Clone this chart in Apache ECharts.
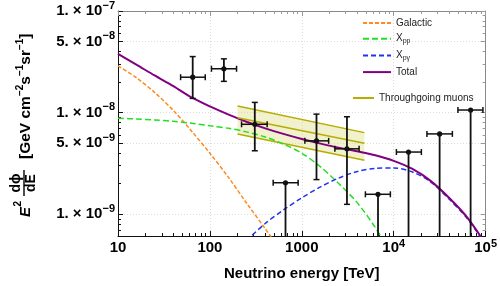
<!DOCTYPE html>
<html><head><meta charset="utf-8">
<script src="https://cdn.jsdelivr.net/npm/echarts@6/dist/echarts.min.js"></script>
<style>html,body{margin:0;padding:0;background:#fff}#c{width:500px;height:286px}</style>
</head><body><div id="c"></div>
<script>
// ---- data (energy in TeV, flux E^2 dPhi/dE in GeV cm^-2 s^-1 sr^-1) ----
const curveEnergy = [10,16,25,40,63,100,160,250,400,630,1000,1600,2500,4000,6300,10000,16000,25000,40000,63000,100000];
const totalFlux = [3.78e-8,2.95e-8,2.32e-8,1.82e-8,1.41e-8,1.15e-8,9.55e-9,8.13e-9,7.00e-9,6.17e-9,5.50e-9,4.95e-9,4.52e-9,4.17e-9,3.80e-9,3.35e-9,2.79e-9,2.14e-9,1.45e-9,9.3e-10,5.1e-10];
const galacticEnergy = [10,16,25,40,63,100,160,250,400,630];
const galacticFlux = [2.88e-8,2.19e-8,1.58e-8,1.05e-8,6.6e-9,3.98e-9,2.29e-9,1.29e-9,7.2e-10,4.0e-10];
const xppEnergy = [10,16,25,40,63,100,160,250,400,630,1000,1600,2500,4000,6300,10000];
const xppFlux = [8.81e-9,8.65e-9,8.47e-9,8.22e-9,7.85e-9,7.41e-9,7.00e-9,6.46e-9,5.75e-9,4.90e-9,3.98e-9,2.92e-9,2.02e-9,1.30e-9,7.4e-10,3.7e-10];
const xpgEnergy = [250,400,630,1000,1600,2500,4000,6300,10000,16000,25000,40000,63000,100000];
const xpgFlux = [5.5e-10,8.1e-10,1.10e-9,1.45e-9,1.86e-9,2.26e-9,2.63e-9,2.82e-9,2.85e-9,2.60e-9,2.09e-9,1.41e-9,9.1e-10,5.0e-10];

const bandEnergy = [200, 4800];
const bandUpper = [1.16e-8, 6.35e-9];
const bandBest = [8.9e-9, 5.0e-9];
const bandLower = [6.17e-9, 3.39e-9];

const pointEnergy = [65,142,308,665,1445,3100,6750,14500,31600,68700];
const pointEnergyLow = [48,104,221,488,1080,2290,4920,10700,23000,50000];
const pointEnergyHigh = [89,195,420,912,1960,4200,9200,20000,43500,93500];
const pointFlux = [2.23e-8,2.70e-8,7.67e-9,2.04e-9,5.27e-9,4.40e-9,1.57e-9,4.09e-9,6.17e-9,1.06e-8];
const pointFluxHigh = [3.56e-8,3.38e-8,1.26e-8,2.04e-9,9.66e-9,9.10e-9,1.57e-9,4.09e-9,6.17e-9,1.06e-8];
const pointFluxLow = [1.38e-8,2.03e-8,4.21e-9,0,2.19e-9,1.25e-9,0,0,0,0];

const xRange = [10, 100000];
const yRange = [6.1e-10, 1e-7];
const xTickValues = [10,100,1000,10000,100000];
const xTickLabels = [['10',''],['100',''],['1000',''],['10','4'],['10','5']];
const yTickValues = [1e-9,5e-9,1e-8,5e-8,1e-7];
const yTickLabels = [['1. \u00d7 10','\u22129'],['5. \u00d7 10','\u22129'],['1. \u00d7 10','\u22128'],['5. \u00d7 10','\u22128'],['1. \u00d7 10','\u22127']];

// ---- helpers ----
const L = Math.log10;
const pairs = (xs, ys) => xs.map((x, i) => [L(x), L(ys[i])]);
function minorTicks(lo, hi) {
  const out = [];
  for (let d = Math.floor(L(lo)); d <= Math.ceil(L(hi)); d++) {
    for (let k = 1; k <= 9; k++) {
      const v = k * Math.pow(10, d);
      if (v >= lo * 0.999 && v <= hi * 1.001) out.push(L(v));
    }
  }
  return out;
}
const xMajor = xTickValues.map(L);
const yMajor = yTickValues.map(L);
const xMinor = minorTicks(xRange[0], xRange[1]).filter(v => !xMajor.some(m => Math.abs(m - v) < 1e-6));
const yMinor = minorTicks(yRange[0], yRange[1]).filter(v => !yMajor.some(m => Math.abs(m - v) < 1e-6));
const findIdx = (arr, v) => arr.findIndex(m => Math.abs(m - v) < 1e-6);

const FONT = 'Liberation Sans';
const xMin = L(xRange[0]), xMax = L(xRange[1]), yMin = L(yRange[0]), yMax = L(yRange[1]);

function axisBase(extra) {
  return Object.assign({
    type: 'value', min: 0, max: 1, axisLine: { show: false }, axisLabel: { show: false },
    axisTick: { show: false }, splitLine: { show: false }
  }, extra);
}

const xAxes = [
  axisBase({ min: xMin, max: xMax, position: 'bottom',
    axisLine: { show: true, onZero: false, lineStyle: { color: '#111', width: 1 } },
    axisTick: { show: true, inside: true, length: 5, customValues: xMajor, lineStyle: { color: '#111' } },
    axisLabel: { show: true, customValues: xMajor, margin: 2,
      formatter: v => { const t = xTickLabels[findIdx(xMajor, v)]; return t[1] ? '{m|' + t[0] + '}{s|' + t[1] + '}' : '{m|' + t[0] + '}'; },
      rich: { m: { fontFamily: FONT, fontWeight: 'bold', fontSize: 15, color: '#000', lineHeight: 20 },
              s: { fontFamily: FONT, fontWeight: 'bold', fontSize: 11, color: '#000', lineHeight: 8, verticalAlign: 'top' } } },
    splitLine: { show: true, lineStyle: { color: '#dcdcdc', type: [1, 2], width: 1 } },
    name: 'Neutrino energy [TeV]', nameLocation: 'middle', nameGap: 30,
    nameTextStyle: { fontFamily: FONT, fontWeight: 'bold', fontSize: 15, color: '#000' } }),
  axisBase({ min: xMin, max: xMax, position: 'bottom',
    axisTick: { show: true, inside: true, length: 3, customValues: xMinor, lineStyle: { color: '#111' } } }),
  axisBase({ min: xMin, max: xMax, position: 'top',
    axisLine: { show: true, onZero: false, lineStyle: { color: '#888', width: 1 } },
    axisTick: { show: true, inside: true, length: 5, customValues: xMajor, lineStyle: { color: '#999' } } }),
  axisBase({ min: xMin, max: xMax, position: 'top',
    axisTick: { show: true, inside: true, length: 3, customValues: xMinor, lineStyle: { color: '#999' } } })
];
const yAxes = [
  axisBase({ min: yMin, max: yMax, position: 'left',
    axisLine: { show: true, onZero: false, lineStyle: { color: '#111', width: 1 } },
    axisTick: { show: true, inside: true, length: 5, customValues: yMajor, lineStyle: { color: '#111' } },
    axisLabel: { show: true, customValues: yMajor, margin: 3,
      formatter: v => { const t = yTickLabels[findIdx(yMajor, v)]; return '{m|' + t[0] + '}{s|' + t[1] + '}'; },
      rich: { m: { fontFamily: FONT, fontWeight: 'bold', fontSize: 15, color: '#000', lineHeight: 22 },
              s: { fontFamily: FONT, fontWeight: 'bold', fontSize: 11, color: '#000', lineHeight: 6, verticalAlign: 'top' } } },
    splitLine: { show: true, lineStyle: { color: '#dcdcdc', type: [1, 2], width: 1 } } }),
  axisBase({ min: yMin, max: yMax, position: 'left',
    axisTick: { show: true, inside: true, length: 3, customValues: yMinor, lineStyle: { color: '#111' } } }),
  axisBase({ min: yMin, max: yMax, position: 'right',
    axisLine: { show: true, onZero: false, lineStyle: { color: '#888', width: 1 } },
    axisTick: { show: true, inside: true, length: 5, customValues: yMajor, lineStyle: { color: '#999' } } }),
  axisBase({ min: yMin, max: yMax, position: 'right',
    axisTick: { show: true, inside: true, length: 3, customValues: yMinor, lineStyle: { color: '#999' } } })
];

// error-bar points
const pointData = pointEnergy.map((e, i) => [
  L(e), L(pointFlux[i]), L(pointEnergyLow[i]), L(pointEnergyHigh[i]),
  pointFluxLow[i] > 0 ? L(pointFluxLow[i]) : yMin, L(pointFluxHigh[i]),
  pointFluxLow[i] > 0 ? 1 : 0, pointFluxHigh[i] > pointFlux[i] ? 1 : 0
]);

function renderPoint(params, api) {
  const c = api.coord([api.value(0), api.value(1)]);
  const xl = api.coord([api.value(2), api.value(1)])[0];
  const xh = api.coord([api.value(3), api.value(1)])[0];
  const yl = api.coord([api.value(0), api.value(4)])[1];
  const yh = api.coord([api.value(0), api.value(5)])[1];
  const hasLow = api.value(6), hasHigh = api.value(7);
  const st = { stroke: '#111', lineWidth: 1.5 };
  const vst = { stroke: '#111', lineWidth: 1.8 };
  const ch = [
    { type: 'line', shape: { x1: xl, y1: c[1], x2: xh, y2: c[1] }, style: st },
    { type: 'line', shape: { x1: xl, y1: c[1] - 3, x2: xl, y2: c[1] + 3 }, style: st },
    { type: 'line', shape: { x1: xh, y1: c[1] - 3, x2: xh, y2: c[1] + 3 }, style: st },
    { type: 'line', shape: { x1: c[0], y1: yh, x2: c[0], y2: yl }, style: vst }
  ];
  if (hasHigh) ch.push({ type: 'line', shape: { x1: c[0] - 3, y1: yh, x2: c[0] + 3, y2: yh }, style: st });
  if (hasLow) ch.push({ type: 'line', shape: { x1: c[0] - 3, y1: yl, x2: c[0] + 3, y2: yl }, style: st });
  ch.push({ type: 'circle', shape: { cx: c[0], cy: c[1], r: 2.6 }, style: { fill: '#111' } });
  return { type: 'group', children: ch };
}

// band fill polygon (one item spanning the band)
const bandData = [[L(bandEnergy[0]), L(bandLower[0]), L(bandUpper[0]), L(bandEnergy[1]), L(bandLower[1]), L(bandUpper[1])]];
function renderBand(params, api) {
  const a = api.coord([api.value(0), api.value(1)]);
  const b = api.coord([api.value(0), api.value(2)]);
  const c = api.coord([api.value(3), api.value(5)]);
  const d = api.coord([api.value(3), api.value(4)]);
  return { type: 'polygon', shape: { points: [a, b, c, d] }, style: { fill: 'rgba(222,220,130,0.4)' } };
}

const OLIVE = '#b5ad00';
const lineSeries = (name, data, color, width, dash, z) => ({
  name, type: 'line', data, symbol: 'none', showSymbol: false, smooth: 0.3, xAxisIndex: 0, yAxisIndex: 0, z: z || 3,
  lineStyle: { color, width, type: dash || 'solid' }, itemStyle: { color }, silent: true
});

const option = {
  animation: false,
  backgroundColor: '#fff',
  grid: { left: 118, right: 14, top: 10, bottom: 49, containLabel: false },
  xAxis: xAxes,
  yAxis: yAxes,
  legend: [
    { data: ['Galactic', 'Xpp', 'Xp\u03b3', 'Total'], orient: 'vertical', left: 357, top: 13,
      itemWidth: 28, itemHeight: 12, itemGap: 5.7, itemStyle: { opacity: 0 },
      textStyle: { fontFamily: FONT, fontSize: 10, color: '#222',
        rich: { m: { fontFamily: FONT, fontSize: 10, color: '#222', lineHeight: 12 },
                s: { fontFamily: FONT, fontSize: 7, color: '#222', lineHeight: 6, verticalAlign: 'bottom' } } },
      formatter: n => n === 'Xpp' ? '{m|X}{s|pp}' : (n === 'Xp\u03b3' ? '{m|X}{s|p\u03b3}' : '{m|' + n + '}') },
    { data: ['Throughgoing muons'], orient: 'vertical', left: 347, top: 88,
      itemWidth: 21, itemHeight: 12, itemStyle: { opacity: 0 },
      textStyle: { fontFamily: FONT, fontSize: 10, color: '#222' } }
  ],
  series: [
    { name: 'bandFill', type: 'custom', renderItem: renderBand, data: bandData,
      encode: { x: [0, 3], y: [1, 2, 4, 5] }, z: 1, silent: true },
    lineSeries('bandLow', pairs(bandEnergy, bandLower), OLIVE, 1.5, 'solid', 2),
    lineSeries('bandHigh', pairs(bandEnergy, bandUpper), OLIVE, 1.5, 'solid', 2),
    lineSeries('Galactic', pairs(galacticEnergy, galacticFlux), '#ff8a1f', 1.5, [4, 2]),
    lineSeries('Xpp', pairs(xppEnergy, xppFlux), '#22e022', 1.5, [6, 3]),
    lineSeries('Xp\u03b3', pairs(xpgEnergy, xpgFlux), '#2233f0', 1.5, [5, 3]),
    lineSeries('Total', pairs(curveEnergy, totalFlux), '#800080', 2, 'solid', 4),
    lineSeries('Throughgoing muons', pairs(bandEnergy, bandBest), OLIVE, 1.5, 'solid', 4),
    { name: 'data', type: 'custom', renderItem: renderPoint, data: pointData, encode: { x: 0, y: 1 }, z: 6, silent: true, clip: true }
  ],
  graphic: [
    { type: 'group', x: 31, y: 217, rotation: Math.PI / 2, silent: true, children: [
      { type: 'text', x: 0, y: -5.4, style: { text: 'E', font: 'italic bold 15px "Liberation Sans"', fill: '#000', verticalAlign: 'middle', align: 'left' } },
      { type: 'text', x: 10.5, y: -13, style: { text: '2', font: 'bold 10px "Liberation Sans"', fill: '#000', verticalAlign: 'middle', align: 'left' } },
      { type: 'text', x: 34, y: -14.5, style: { text: 'd\u03d5', font: 'bold 14px "Liberation Sans"', fill: '#000', verticalAlign: 'middle', align: 'center' } },
      { type: 'line', shape: { x1: 21, y1: -7, x2: 47, y2: -7 }, style: { stroke: '#000', lineWidth: 1.4 } },
      { type: 'text', x: 34, y: 0.5, style: { text: 'dE', font: 'bold 14px "Liberation Sans"', fill: '#000', verticalAlign: 'middle', align: 'center' } },
      { type: 'text', x: 58, y: -5.4, style: {
          text: '{m|[GeV cm}{s|\u22122}{m|s}{s|\u22121}{m|sr}{s|\u22121}{m|]}', verticalAlign: 'middle', align: 'left',
          rich: { m: { fontFamily: FONT, fontWeight: 'bold', fontSize: 15.5, fill: '#000', color: '#000', lineHeight: 20 },
                  s: { fontFamily: FONT, fontWeight: 'bold', fontSize: 10, fill: '#000', color: '#000', lineHeight: 8, verticalAlign: 'top' } } } }
    ] }
  ]
};

const chart = echarts.init(document.getElementById('c'), null, { renderer: 'canvas' });
chart.setOption(option);
</script>
</body></html>
